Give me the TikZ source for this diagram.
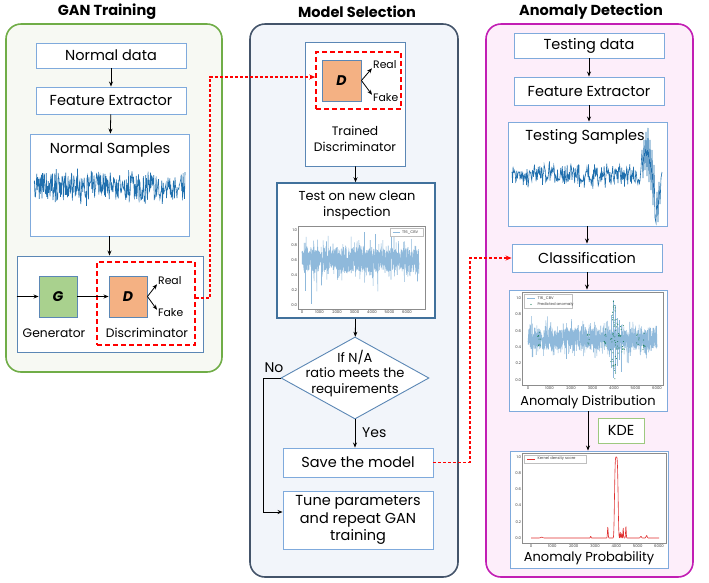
\documentclass[tikz,border=0pt]{standalone}
\usepackage{fontspec}
\setmainfont{Poppins}
\usetikzlibrary{arrows.meta,shapes.geometric}
\definecolor{boxblue}{HTML}{7FAADC}
\definecolor{darkblue}{HTML}{41719C}
\definecolor{steel}{HTML}{5B87B5}
\definecolor{gfill}{HTML}{A9D18E}
\definecolor{dfill}{HTML}{F4B183}
\definecolor{ganborder}{HTML}{70AD47}
\definecolor{ganfill}{HTML}{F7F9F3}
\definecolor{msborder}{HTML}{44546A}
\definecolor{msfill}{HTML}{F2F5FA}
\definecolor{adborder}{HTML}{C21EB4}
\definecolor{adfill}{HTML}{FDEEFA}
\definecolor{sig}{HTML}{1F6FAE}
\definecolor{lsig}{HTML}{8FB9DB}
\definecolor{anom}{HTML}{1A7F5A}
\definecolor{kdecol}{HTML}{E03030}
\definecolor{kdegreen}{HTML}{9DC97F}
\tikzset{
  declare function={gs(\t)=exp(-(min(abs(\t),4)^2));pl(\t)=exp(-(min(abs(\t),2)^4));},
  panel/.style={rounded corners=15pt, line width=1.6pt},
  ptitle/.style={font=\bfseries\fontsize{14.5}{16}\selectfont},
  big/.style={font=\fontsize{14.5}{17}\selectfont},
  med/.style={font=\fontsize{13}{15.5}\selectfont, inner sep=0pt},
  box/.style={draw=boxblue, fill=white, line width=0.9pt, inner sep=0pt, big},
  txt/.style={big, inner sep=0pt},
  small/.style={font=\fontsize{10.8}{12}\selectfont, inner sep=0pt},
  gdsq/.style={draw=steel, line width=0.9pt, minimum width=38pt, minimum height=41pt, font=\bfseries\itshape\fontsize{14}{16}\selectfont},
  arr/.style={-{Stealth[length=5pt,width=4pt]}, line width=0.8pt},
  reddash/.style={draw=red, dash pattern=on 5pt off 3pt, line width=1.6pt},
  redconn/.style={draw=red, dash pattern=on 3pt off 2pt, line width=1.2pt, -{Stealth[length=6pt,width=5pt]}},
  tick/.style={font=\fontsize{3.8}{4}\selectfont, inner sep=0.3pt, text=black!75},
  frame/.style={draw=black!45, line width=0.4pt},
}
\begin{document}
\begin{tikzpicture}[x=1pt,y=-1pt]
\useasboundingbox (0,0) rectangle (709,582);
% panels
\node[panel, draw=ganborder, fill=ganfill, minimum width=216pt, minimum height=348pt] (ganpanel) at (114,198) {};
\node[panel, draw=msborder, fill=msfill, minimum width=208pt, minimum height=553pt] (mspanel) at (354,300.5) {};
\node[panel, draw=adborder, fill=adfill, minimum width=207pt, minimum height=553pt] (adpanel) at (589.5,300.5) {};
\node[ptitle] (t1) at (107,12) {GAN Training};
\node[ptitle] (t2) at (357,12) {Model Selection};
\node[ptitle] (t3) at (591,12) {Anomaly Detection};

% ---------- GAN training ----------
\node[box, minimum width=150pt, minimum height=25pt] (nd) at (111,55.5) {Normal data};
\node[box, minimum width=150pt, minimum height=27pt] (fe) at (111,100.5) {Feature Extractor};
\node[box, minimum width=159pt, minimum height=102pt] (ns) at (109.5,185) {};
\node[txt] (nstitle) at (110,150) {Normal Samples};
\pgfmathsetseed{11}
\draw[sig, line width=0.6pt] plot[domain=34:185, samples=320] (\x,{187+14*rand+8*rand*rand});
\node[draw=steel, fill=white, line width=0.9pt, minimum width=186pt, minimum height=96pt] (gen) at (110,304) {};
\node[reddash, minimum width=98pt, minimum height=83pt] (rd1) at (146,303.5) {};
\node[gdsq, fill=gfill] (G) at (58,296.5) {G};
\node[gdsq, fill=dfill] (D) at (128,296.5) {D};
\node[small, anchor=west] (real1) at (158,281) {Real};
\node[small, anchor=west] (fake1) at (158,313) {Fake};
\node[med, font=\fontsize{12.3}{14}\selectfont] (genlab) at (54,333) {Generator};
\node[med, font=\fontsize{12.3}{14}\selectfont] (dislab) at (147,333) {Discriminator};
\draw[arr] (nd) -- (fe);
\draw[arr] (fe) -- (ns);
\draw[arr] (ns.south) -- (ns.south |- gen.north);
\draw[arr] (gen.west |- G) -- (G.west);
\draw[arr] (G) -- (D);
\draw[arr] (D.east) -- ([xshift=-1pt,yshift=1pt]real1.south west);
\draw[arr] (D.east) -- ([xshift=-1pt,yshift=-1pt]fake1.north west);

% ---------- Model selection ----------
\node[draw=steel, fill=white, line width=0.9pt, minimum width=100pt, minimum height=124pt] (td) at (355,104) {};
\node[reddash, minimum width=85pt, minimum height=57pt] (rd2) at (358.5,80.5) {};
\node[gdsq, fill=dfill, minimum width=39pt] (D2) at (341.5,80.5) {D};
\node[small, anchor=west] (real2) at (373,65) {Real};
\node[small, anchor=west] (fake2) at (373,98) {Fake};
\draw[arr] (D2.east) -- ([xshift=-1pt,yshift=1pt]real2.south west);
\draw[arr] (D2.east) -- ([xshift=-1pt,yshift=-1pt]fake2.north west);
\node[med, font=\fontsize{12.3}{14}\selectfont, align=center] (tdlab) at (355,138.5) {Trained\\[2pt]Discriminator};

\node[draw=darkblue, fill=white, line width=1.5pt, minimum width=158pt, minimum height=135pt] (test) at (356,250.5) {};
\node[med, align=center] (testlab) at (357,205.5) {Test on new clean\\[1pt]inspection};
% plot 1
\draw[frame] (298,226) rectangle (425,309);
\begin{scope}
\clip (298,226) rectangle (425,309);
\pgfmathsetseed{5}
\draw[lsig, line width=0.55pt] plot[domain=302:419, samples=1100] (\x,{260+12*rand+24*rand*rand*rand});
\draw[lsig, line width=0.5pt] (305,262) -- (305,291) (311,262) -- (311,304) (364,258) -- (364,232) (375,262) -- (375,234);
\end{scope}
\draw[fill=white, draw=black!25, line width=0.3pt] (390,228.5) rectangle (423,236);
\draw[lsig, line width=0.6pt] (392.5,232.2) -- (400,232.2);
\node[tick, anchor=west] (leg1) at (401.5,232.2) {T16\_CBV};
\foreach \v/\l in {0/0.0,0.2/0.2,0.4/0.4,0.6/0.6,0.8/0.8,1/1.0}
  \node[tick, anchor=east] at (297.5,{305-75*\v}) {\l};
\foreach \v in {0,1000,2000,3000,4000,5000,6000}
  \node[tick, anchor=north] at ({302+\v/6000*105},309.8) {\v};

\node[diamond, draw=steel, fill=white, line width=0.9pt, minimum width=148pt, minimum height=82pt, inner sep=0pt] (dia) at (355,378) {};
\node[med, align=center] (dialab) at (355,373.5) {If N/A\\ratio meets the\\requirements};
\node[txt, font=\fontsize{14}{16}\selectfont] (nolab) at (274,368) {No};
\node[box, minimum width=150pt, minimum height=29pt] (save) at (358,462.5) {Save the model};
\node[box, minimum width=150pt, minimum height=58pt, align=center] (tune) at (358,520) {Tune parameters\\[0.5pt]and repeat GAN\\[0.5pt]training};
\node[txt, font=\fontsize{14}{16}\selectfont, anchor=west] (yeslab) at (362,433) {Yes};
\coordinate (nob) at (263,0);
\draw[arr] (td) -- (test);
\draw[arr] (test) -- (dia);
\draw[arr] (dia.south) -- (dia.south |- save.north);
\draw[arr] (dia.west) -- (dia.west -| nob) |- ([yshift=8pt]tune.west);

% ---------- Anomaly detection ----------
\node[box, minimum width=150pt, minimum height=25pt] (tdata) at (589,45.5) {Testing data};
\node[box, minimum width=150pt, minimum height=28pt] (fe2) at (589,91) {Feature Extractor};
\node[box, minimum width=159pt, minimum height=104pt] (ts) at (587.5,174) {};
\node[txt] (tstitle) at (585,137) {Testing Samples};
\pgfmathsetseed{23}
\draw[sig, line width=0.6pt] plot[domain=512:640, samples=240] (\x,{175+9*rand+8*rand*rand}) -- (641,168) -- (642,150) -- (643,178) -- (644,140) -- (645,170) -- (646,132) -- (647,176) -- (648,128) -- (649,182) -- (650,140) -- (651,190) -- (652,150) -- (653,205) -- (654,165) -- (655,218) -- (656,223) -- (657,192) -- (658,222) -- (659,182) -- (660,204) -- (661,178) -- (662,172);
\node[box, minimum width=150pt, minimum height=28pt] (class) at (587,258) {Classification};
\node[box, minimum width=158pt, minimum height=121pt] (adist) at (588,350.5) {};
\node[med] (adlab) at (588,402) {Anomaly Distribution};
% plot 2
\draw[frame] (522,292) rectangle (663,385);
\begin{scope}
\clip (522,292) rectangle (663,385);
\pgfmathsetseed{7}
\draw[lsig, line width=0.55pt] plot[domain=528:657, samples=1100] (\x,{339+11*rand+20*rand*rand*rand});
\draw[lsig, line width=0.6pt] (611,315) -- (611,368) (613,300) -- (613,378) (615,305) -- (615,372) (617,318) -- (617,366) (619,320) -- (619,360) (621,325) -- (621,372);
\pgfmathsetseed{3}
\foreach \c/\n/\s in {539/9/8, 588/6/7, 605/8/10, 612/12/28, 614/26/40, 617/12/20, 620/10/15, 623/7/14, 638/6/8, 644/8/12}
  \foreach \i in {1,...,\n}
    \fill[anom] ({\c+1.5*rand},{339+\s*rand}) circle (0.55pt);
\end{scope}
\draw[fill=white, draw=black!25, line width=0.3pt] (524.5,294) rectangle (572,308.5);
\draw[lsig, line width=0.6pt] (527,298.5) -- (535,298.5);
\fill[anom] (531,304.5) circle (0.6pt);
\node[tick, anchor=west] (leg2a) at (537,298.5) {T16\_CBV};
\node[tick, anchor=west] (leg2b) at (537,304.5) {Predicted anomaly};
\foreach \v/\l in {0/0.0,0.2/0.2,0.4/0.4,0.6/0.6,0.8/0.8,1/1.0}
  \node[tick, anchor=east] at (521.5,{380-82*\v}) {\l};
\foreach \v in {0,1000,2000,3000,4000,5000,6000}
  \node[tick, anchor=north] at ({528+\v/6000*129},385.8) {\v};

\node[draw=kdegreen, fill=white, line width=1pt, minimum width=46pt, minimum height=25pt, txt] (kde) at (621,430.5) {KDE};
\node[box, minimum width=158pt, minimum height=117pt] (aprob) at (589,509.5) {};
\node[med] (aplab) at (589,558) {Anomaly Probability};
% plot 3
\draw[frame] (522,453) rectangle (666,543);
\draw[kdecol, line width=0.6pt] plot[domain=531:659, samples=900] (\x,{538-81*(0.01*gs((\x-541.7)/1.5)+0.02*gs((\x-590.7)/0.5)+0.13*gs((\x-607.8)/0.5)+pl((\x-616.3)/2)+0.07*gs((\x-620.2)/0.4)+0.05*gs((\x-621.7)/0.4)+0.12*gs((\x-623.2)/0.4)+0.14*gs((\x-625.9)/0.45)+0.02*gs((\x-640.9)/0.8)+0.03*gs((\x-646.6)/0.8))});
\draw[fill=white, draw=black!25, line width=0.3pt] (524.5,455) rectangle (586,463);
\draw[kdecol, line width=0.9pt] (527,459) -- (535,459);
\node[tick, anchor=west] (leg3) at (537,459) {Kernel density score};
\foreach \v/\l in {0/0.0,0.2/0.2,0.4/0.4,0.6/0.6,0.8/0.8,1/1.0}
  \node[tick, anchor=east] at (521.5,{538-81*\v}) {\l};
\foreach \v in {0,1000,2000,3000,4000,5000,6000}
  \node[tick, anchor=north] at ({531+\v/6000*128},543.8) {\v};

\draw[arr] (tdata) -- (fe2);
\draw[arr] (fe2.south) -- (fe2.south |- ts.north);
\draw[arr] (ts.south -| class.north) -- (class.north);
\draw[arr] (class) -- (class |- adist.north);
\draw[arr] (adist.south) -- (adist.south |- aprob.north);

% ---------- red connectors ----------
\coordinate (bend1) at (210,77);
\coordinate (bend2) at (470,258);
\draw[redconn] ([yshift=5.5pt]rd1.east) -| (bend1) -- (rd2.west |- bend1);
\draw[redconn] (save.east) -| (bend2) -- (class.west);
\end{tikzpicture}
\end{document}
